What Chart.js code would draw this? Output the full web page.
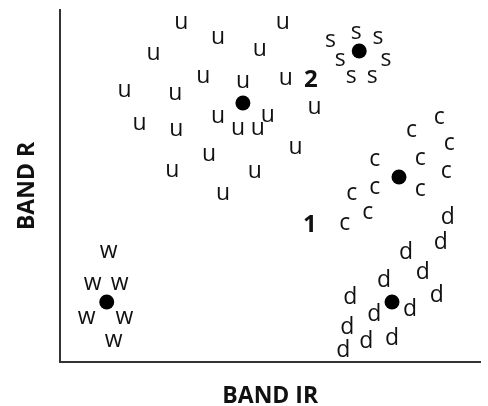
<!DOCTYPE html>
<html>
<head>
<meta charset="utf-8">
<script src="https://cdn.jsdelivr.net/npm/chart.js@4/dist/chart.umd.min.js"></script>
<style>
  body { margin: 0; background: #fff; }
</style>
</head>
<body>
<canvas id="ChartElem" width="488" height="406"></canvas>
<script>
// class samples (x = band IR, y = band R)
var uX = [122, 224, 159, 201, 94, 144, 184, 227, 65, 116, 256, 209, 159, 80, 117, 179, 199, 237, 150, 113, 196, 164];
var uY = [340, 340, 325, 313, 309, 286, 281, 284, 272, 269, 255, 247, 246, 239, 233, 234, 234, 215, 208, 192, 191, 169];
var sX = [298, 272, 320, 282, 328, 293, 314];
var sY = [330, 322, 325, 303, 303, 286, 286];
var cX = [382, 354, 392, 317, 363, 389, 317, 363, 294, 310, 287];
var cY = [245, 232, 219, 203, 204, 191, 175, 173, 169, 150, 139];
var dX = [390, 383, 348, 365, 326, 379, 292, 352, 316, 289, 334, 308, 285];
var dY = [147, 122, 112, 92, 84, 69, 67, 55, 50, 37, 26, 23, 14];
var wX = [49, 33, 60, 27, 65, 54];
var wY = [111, 79, 79, 45, 45, 22];

// cluster means (black dots)
var centerX = [184, 301, 341, 334, 47];
var centerY = [259, 311, 185, 60, 60];

// unknown pixels 1 and 2
var pixelNames = ["2", "1"];
var pixelX = [252, 250];
var pixelY = [284, 139];

var xMax = 423, yMax = 352;

function toPoints(xs, ys) {
    var pts = [];
    for (let i = 0; i < xs.length; i++) pts.push({ x: xs[i], y: ys[i] });
    return pts;
}

// draws a text glyph centred on each point of datasets that have a "mark"
var letterPlugin = {
    id: 'letters',
    afterDatasetsDraw: function (chart) {
        var ctx = chart.ctx;
        chart.data.datasets.forEach(function (ds, i) {
            if (!ds.mark) return;
            var meta = chart.getDatasetMeta(i);
            ctx.save();
            ctx.font = ds.markFont;
            ctx.fillStyle = '#111';
            ctx.textAlign = 'left';
            ctx.textBaseline = 'alphabetic';
            meta.data.forEach(function (pt, j) {
                var txt = Array.isArray(ds.mark) ? ds.mark[j] : ds.mark;
                var m = ctx.measureText(txt);
                var x0 = pt.x - (m.actualBoundingBoxRight - m.actualBoundingBoxLeft) / 2;
                var y0 = pt.y + (m.actualBoundingBoxAscent - m.actualBoundingBoxDescent) / 2;
                ctx.fillText(txt, x0, y0);
            });
            ctx.restore();
        });
    }
};

var letterFont = '23px "Open Sans"';

function letterSet(name, xs, ys) {
    return {
        label: name,
        data: toPoints(xs, ys),
        mark: name,
        markFont: letterFont,
        pointRadius: 0,
        pointHoverRadius: 0,
        showLine: false
    };
}

var titleFont = { family: 'Open Sans', size: 23, weight: 'bold', lineHeight: 1 };

var chart = new Chart(document.getElementById("ChartElem").getContext("2d"), {
    type: 'scatter',
    data: {
        datasets: [
            letterSet('u', uX, uY),
            letterSet('s', sX, sY),
            letterSet('c', cX, cY),
            letterSet('d', dX, dY),
            letterSet('w', wX, wY),
            {
                label: 'mean',
                data: toPoints(centerX, centerY),
                pointRadius: 7.5,
                pointBackgroundColor: '#000',
                pointBorderWidth: 0,
                showLine: false
            },
            {
                label: 'pixels',
                data: toPoints(pixelX, pixelY),
                mark: pixelNames,
                markFont: 'bold 24px "Open Sans"',
                pointRadius: 0,
                showLine: false
            }
        ]
    },
    options: {
        responsive: false,
        animation: false,
        events: [],
        layout: { padding: { top: 10, right: 5 } },
        plugins: { legend: { display: false }, tooltip: { enabled: false } },
        scales: {
            x: {
                type: 'linear',
                min: 0,
                max: xMax,
                grid: { display: false },
                ticks: { display: false },
                border: { color: '#333', width: 2 },
                title: { display: true, text: 'BAND IR', color: '#111', font: titleFont, padding: { top: 0, bottom: -2 } },
                afterFit: function (s) { s.height = 44; }
            },
            y: {
                type: 'linear',
                min: 0,
                max: yMax,
                grid: { display: false },
                ticks: { display: false },
                border: { color: '#333', width: 2 },
                title: { display: true, text: 'BAND R', color: '#111', font: titleFont, padding: { top: 16, bottom: 0 } },
                afterFit: function (s) { s.width = 60; }
            }
        }
    },
    plugins: [letterPlugin]
});
</script>
</body>
</html>
